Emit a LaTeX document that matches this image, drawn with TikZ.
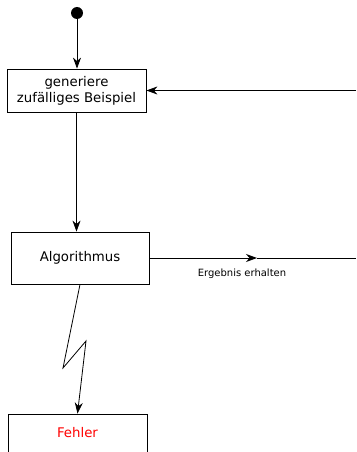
\documentclass[tikz,border=0pt]{standalone}
\usepackage{fontspec}
\setmainfont{DejaVu Sans}
\usetikzlibrary{arrows.meta}

\tikzset{
  box/.style={draw,line width=0.8pt,minimum width=139pt,align=center,inner sep=0pt},
  flow/.style={line width=0.8pt,-{Stealth[length=11pt,width=8pt,inset=3.5pt]}}
}

\begin{document}
\begin{tikzpicture}[x=1pt,y=-1pt]
    \useasboundingbox (0,0) rectangle (356,452);
    \clip (0,0) rectangle (356,452);

    \node[circle,fill=black,inner sep=0pt,minimum size=12pt](start)at(77,13){};
    \node[box,minimum height=43pt,font=\fontsize{13.3}{16}\selectfont](gen)at(76.5,90.5){generiere\\zufälliges Beispiel};
    \node[box,minimum width=138pt,minimum height=52pt,font=\fontsize{13.3}{16}\selectfont](algo)at(80,258){Algorithmus};
    \node[box,anchor=base,text=red,text height=12pt,text depth=30pt,inner ysep=11pt,font=\fontsize{13.3}{16}\selectfont](fehler)at(77.5,437){Fehler};
    \node[font=\fontsize{10}{12}\selectfont](erg)at(242,274){Ergebnis erhalten};

    \coordinate (back) at (356,90.5);
    \coordinate (ergmid) at (257,258);
    \coordinate (ergend) at (356,258);
    \coordinate (zigA) at (63,368);
    \coordinate (zigB) at (86,341);

    \draw[flow] (start) to (start |- gen.north);
    \draw[flow] (back) to (gen.east);
    \draw[flow] (gen.south) to (gen.south |- algo.north);
    \draw[flow] (algo.east) to (ergmid);
    \draw[line width=0.8pt] (ergmid) to (ergend);
    \draw[flow] (algo.south) -- (zigA) -- (zigB) -- (fehler.north);
  \end{tikzpicture}
\end{document}
